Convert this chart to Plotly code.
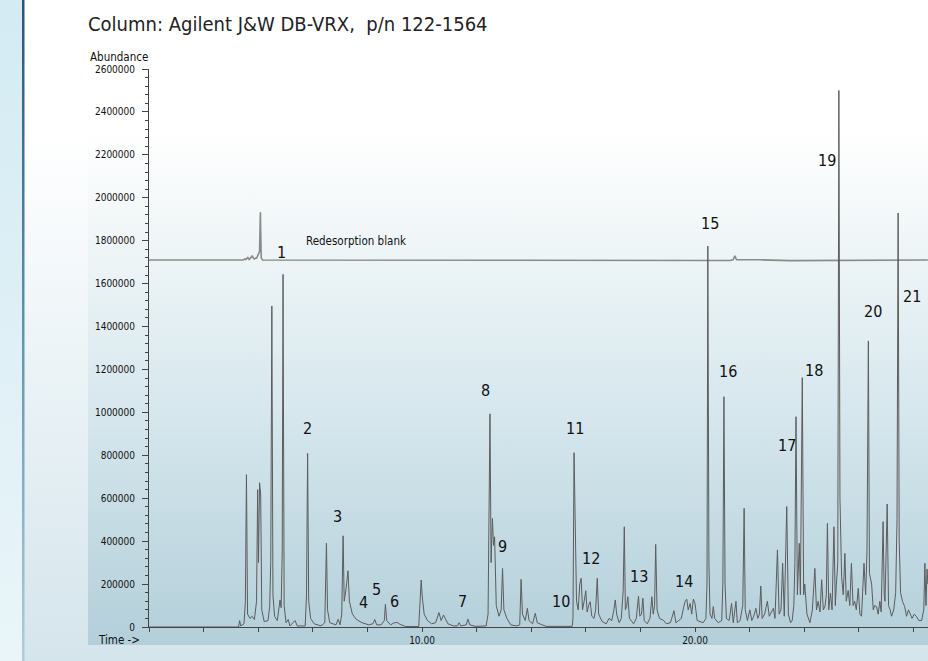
import base64
import plotly.graph_objects as go

# ---------------- data ----------------
# Main chromatogram trace: retention time (min) and abundance vertices
main_rt = [
    0.00, 3.28, 3.32, 3.36, 3.48, 3.53, 3.57, 3.61, 3.70, 3.78, 3.86, 3.94, 3.98, 4.01, 4.05, 4.09,
    4.13, 4.22, 4.36, 4.42, 4.46, 4.50, 4.54, 4.60, 4.70, 4.76, 4.80, 4.84, 4.88, 4.91, 4.95, 5.02,
    5.10, 5.16, 5.35, 5.43, 5.72, 5.77, 5.81, 5.85, 5.92, 6.05, 6.30, 6.44, 6.47, 6.50, 6.54, 6.62,
    6.85, 6.93, 7.00, 7.06, 7.11, 7.15, 7.22, 7.29, 7.34, 7.45, 7.60, 7.80, 8.05, 8.20, 8.27, 8.34,
    8.50, 8.62, 8.66, 8.71, 8.85, 8.95, 9.08, 9.20, 9.40, 9.88, 9.93, 9.97, 10.01, 10.08, 10.20, 10.35,
    10.50, 10.62, 10.70, 10.79, 10.85, 10.95, 11.15, 11.30, 11.36, 11.42, 11.62, 11.68, 11.75, 11.95, 12.35, 12.42,
    12.49, 12.53, 12.58, 12.62, 12.66, 12.72, 12.82, 12.90, 12.95, 13.00, 13.11, 13.25, 13.45, 13.58, 13.63, 13.68,
    13.78, 13.86, 13.92, 14.05, 14.15, 14.22, 14.40, 14.55, 15.50, 15.53, 15.57, 15.62, 15.66, 15.72, 15.78, 15.83,
    15.88, 15.94, 16.00, 16.05, 16.10, 16.16, 16.22, 16.30, 16.36, 16.42, 16.47, 16.60, 16.75, 16.85, 16.95, 17.03,
    17.08, 17.13, 17.22, 17.30, 17.37, 17.41, 17.45, 17.50, 17.54, 17.60, 17.75, 17.85, 17.93, 17.98, 18.04, 18.09,
    18.14, 18.25, 18.35, 18.42, 18.47, 18.52, 18.56, 18.61, 18.70, 18.85, 18.95, 19.10, 19.23, 19.30, 19.40, 19.50,
    19.58, 19.64, 19.70, 19.75, 19.82, 19.88, 19.94, 20.00, 20.08, 20.20, 20.30, 20.40, 20.44, 20.47, 20.51, 20.55,
    20.62, 20.67, 20.72, 20.85, 20.98, 21.02, 21.06, 21.10, 21.15, 21.25, 21.34, 21.40, 21.50, 21.55, 21.65, 21.75,
    21.80, 21.84, 21.92, 22.01, 22.08, 22.15, 22.23, 22.30, 22.36, 22.41, 22.46, 22.55, 22.65, 22.72, 22.80, 22.87,
    22.93, 23.02, 23.08, 23.15, 23.21, 23.27, 23.36, 23.42, 23.50, 23.56, 23.62, 23.66, 23.70, 23.75, 23.82, 23.86,
    23.93, 23.98, 24.02, 24.10, 24.21, 24.30, 24.39, 24.45, 24.51, 24.58, 24.64, 24.70, 24.76, 24.81, 24.85, 24.90,
    24.96, 25.02, 25.09, 25.14, 25.18, 25.23, 25.27, 25.31, 25.37, 25.43, 25.49, 25.54, 25.61, 25.67, 25.73, 25.79,
    25.85, 25.91, 25.98, 26.04, 26.10, 26.19, 26.25, 26.30, 26.35, 26.39, 26.47, 26.53, 26.58, 26.65, 26.71, 26.77,
    26.82, 26.89, 26.93, 26.96, 27.04, 27.09, 27.15, 27.20, 27.28, 27.35, 27.40, 27.44, 27.48, 27.53, 27.60, 27.68,
    27.75, 27.82, 27.87, 27.95, 28.03, 28.11, 28.20, 28.30, 28.38, 28.42, 28.46, 28.50, 28.53,
]
main_abund = [
    0, 0, 30000, 5000, 15000, 120000, 710000, 60000, 40000, 50000, 35000, 120000, 640000, 300000, 672000, 620000,
    80000, 25000, 30000, 95000, 300000, 1496000, 150000, 50000, 30000, 100000, 126000, 90000, 350000, 1643000, 100000, 20000,
    35000, 5000, 30000, 5000, 5000, 150000, 809000, 120000, 40000, 15000, 5000, 20000, 300000, 390000, 80000, 20000,
    10000, 36000, 10000, 60000, 425000, 120000, 180000, 262000, 120000, 60000, 35000, 20000, 10000, 15000, 35000, 10000,
    10000, 30000, 106000, 30000, 10000, 18000, 22000, 12000, 2000, 2000, 120000, 219000, 140000, 60000, 30000, 15000,
    20000, 67000, 30000, 56000, 40000, 15000, 5000, 5000, 20000, 5000, 10000, 37000, 10000, 3000, 5000, 60000,
    993000, 300000, 506000, 380000, 420000, 100000, 50000, 80000, 273000, 80000, 40000, 10000, 5000, 10000, 222000, 60000,
    30000, 87000, 30000, 15000, 64000, 20000, 10000, 3000, 3000, 40000, 812000, 300000, 120000, 80000, 200000, 227000,
    80000, 120000, 169000, 70000, 100000, 118000, 50000, 40000, 80000, 227000, 60000, 25000, 15000, 40000, 30000, 80000,
    126000, 60000, 20000, 40000, 170000, 467000, 80000, 100000, 141000, 40000, 15000, 40000, 144000, 50000, 60000, 134000,
    30000, 15000, 40000, 141000, 60000, 100000, 385000, 80000, 40000, 30000, 15000, 20000, 76000, 20000, 30000, 40000,
    90000, 120000, 129000, 80000, 110000, 60000, 130000, 110000, 30000, 25000, 20000, 40000, 200000, 1775000, 300000, 60000,
    40000, 95000, 40000, 20000, 30000, 200000, 1073000, 200000, 40000, 30000, 110000, 20000, 120000, 20000, 30000, 100000,
    553000, 80000, 30000, 80000, 30000, 50000, 87000, 40000, 60000, 191000, 40000, 60000, 120000, 50000, 70000, 87000,
    40000, 359000, 60000, 80000, 297000, 50000, 561000, 60000, 20000, 30000, 100000, 300000, 980000, 150000, 390000, 150000,
    1162000, 150000, 200000, 60000, 20000, 80000, 273000, 80000, 120000, 70000, 220000, 80000, 95000, 150000, 483000, 80000,
    158000, 80000, 467000, 100000, 200000, 300000, 2500000, 600000, 235000, 150000, 343000, 120000, 170000, 100000, 297000, 100000,
    120000, 80000, 180000, 60000, 50000, 297000, 150000, 350000, 1333000, 250000, 200000, 80000, 100000, 95000, 60000, 120000,
    70000, 491000, 150000, 120000, 573000, 100000, 80000, 50000, 80000, 160000, 500000, 1929000, 400000, 160000, 120000, 95000,
    50000, 80000, 65000, 40000, 60000, 50000, 30000, 30000, 80000, 297000, 100000, 270000, 200000,
]

# Redesorption blank trace (offset baseline)
blank_rt = [0.00, 3.45, 3.50, 3.55, 3.62, 3.67, 3.78, 3.85, 3.95, 4.05, 4.08, 4.11, 4.16,
            20.60, 21.30, 21.40, 21.46, 21.52, 22.40, 23.50, 24.50, 25.50, 28.53]
blank_abund = [1710000, 1710000, 1715000, 1712000, 1722000, 1713000, 1728000, 1715000, 1720000, 1750000,
               1932000, 1720000, 1710000, 1707000, 1708000, 1712000, 1729000, 1711000, 1711000, 1707000,
               1708000, 1710000, 1710000]

# Peak numbers and where their labels sit (time, abundance)
peak_labels = [str(i) for i in range(1, 22)]
label_rt = [4.85, 5.79, 6.90, 7.84, 8.35, 8.98, 11.50, 12.34, 12.95, 15.08, 15.59, 16.18, 17.95,
            19.60, 20.55, 21.20, 23.37, 24.36, 24.85, 26.51, 27.95]
label_abund = [1743000, 923000, 513000, 116000, 177000, 118000, 121000, 1100000, 377000, 121000, 923000,
               317000, 233000, 210000, 1878000, 1190000, 848000, 1197000, 2176000, 1468000, 1542000]

x_ticks = [10, 20]
x_tick_text = ["10.00", "20.00"]
y_ticks = list(range(0, 2600001, 200000))

# ---------------- background (gradients via an SVG image) ----------------
W, H = 928, 661
ML, MR, MT, MB = 149, 0, 69, 34
pw, ph = W - ML - MR, H - MT - MB

svg = f'''<svg xmlns="http://www.w3.org/2000/svg" width="{W}" height="{H}" viewBox="0 0 {W} {H}" preserveAspectRatio="none">
<defs>
<linearGradient id="outer" x1="0" y1="0" x2="0" y2="1">
<stop offset="0" stop-color="#ffffff"/><stop offset="0.2" stop-color="#ffffff"/>
<stop offset="0.5" stop-color="#eef5f8"/><stop offset="1" stop-color="#d5e5ec"/></linearGradient>
<linearGradient id="panel" x1="0" y1="0" x2="0" y2="1">
<stop offset="0" stop-color="#ffffff"/><stop offset="0.2" stop-color="#ffffff"/>
<stop offset="0.39" stop-color="#eef5f7"/><stop offset="0.62" stop-color="#d8e8ee"/>
<stop offset="1" stop-color="#b3cfda"/></linearGradient>
<linearGradient id="strip" x1="0" y1="0" x2="0" y2="1">
<stop offset="0" stop-color="#d4ebf3"/><stop offset="1" stop-color="#e9f5f9"/></linearGradient>
<linearGradient id="rule" x1="0" y1="0" x2="0" y2="1">
<stop offset="0" stop-color="#1b5a80"/><stop offset="0.5" stop-color="#5f93b0"/>
<stop offset="1" stop-color="#b0cdd9"/></linearGradient>
</defs>
<rect x="0" y="0" width="{W}" height="{H}" fill="url(#outer)"/>
<rect x="0" y="0" width="22" height="{H}" fill="url(#strip)"/>
<rect x="22" y="0" width="2.5" height="{H}" fill="url(#rule)"/>
<rect x="88" y="0" width="{W-88}" height="645" fill="url(#panel)"/>
</svg>'''
bg_src = "data:image/svg+xml;base64," + base64.b64encode(svg.encode()).decode()

FONT = "DejaVu Sans Condensed, Liberation Sans Narrow, sans-serif"

fig = go.Figure()
fig.add_trace(go.Scatter(x=blank_rt, y=blank_abund, mode="lines",
                         line=dict(color="#8a8a8a", width=1.6), hoverinfo="skip"))
fig.add_trace(go.Scatter(x=main_rt, y=main_abund, mode="lines",
                         line=dict(color="#5c5c5c", width=1), hoverinfo="skip"))

annotations = []
for txt, t, a in zip(peak_labels, label_rt, label_abund):
    annotations.append(dict(x=t, y=a, xref="x", yref="y", text=txt, showarrow=False,
                            xanchor="center", yanchor="middle",
                            font=dict(family=FONT, size=16, color="#111111")))

def px_x(x):
    return (x - ML) / pw

def px_y(y):
    return (H - MB - y) / ph

annotations += [
    dict(x=px_x(86), y=px_y(24), xref="paper", yref="paper", text="Column: Agilent J&amp;W DB-VRX,  p/n 122-1564",
         showarrow=False, xanchor="left", yanchor="middle", font=dict(family=FONT, size=20, color="#222222")),
    dict(x=px_x(88), y=px_y(57), xref="paper", yref="paper", text="Abundance",
         showarrow=False, xanchor="left", yanchor="middle", font=dict(family=FONT, size=11.5, color="#111111")),
    dict(x=px_x(96), y=px_y(640), xref="paper", yref="paper", text="Time -&gt;",
         showarrow=False, xanchor="left", yanchor="middle", font=dict(family=FONT, size=11.5, color="#111111")),
    dict(x=5.69, y=1797000, xref="x", yref="y", text="Redesorption blank",
         showarrow=False, xanchor="left", yanchor="middle", font=dict(family=FONT, size=11.5, color="#111111")),
]

fig.update_layout(
    width=W, height=H, autosize=False,
    margin=dict(l=ML, r=MR, t=MT, b=MB, pad=0),
    paper_bgcolor="white", plot_bgcolor="rgba(0,0,0,0)",
    showlegend=False,
    annotations=annotations,
    images=[dict(source=bg_src, xref="paper", yref="paper", x=-ML / pw, y=1 + MT / ph,
                 sizex=W / pw, sizey=H / ph, xanchor="left", yanchor="top",
                 sizing="stretch", layer="below")],
    xaxis=dict(range=[0, (W - ML) / 27.30], showgrid=False, zeroline=False,
               showline=True, linecolor="#444444", linewidth=1,
               tickmode="array", tickvals=x_ticks, ticktext=x_tick_text,
               ticks="outside", ticklen=4, tickcolor="#444444",
               minor=dict(dtick=2, tick0=0, ticks="outside", ticklen=4, tickcolor="#444444"),
               tickfont=dict(family=FONT, size=10, color="#111111")),
    yaxis=dict(range=[0, 2600000], showgrid=False, zeroline=False,
               showline=True, linecolor="#444444", linewidth=1,
               tickmode="array", tickvals=y_ticks, ticktext=[str(v) for v in y_ticks],
               ticks="outside", ticklen=6, tickcolor="#444444", ticklabelstandoff=5,
               minor=dict(dtick=40000, tick0=0, ticks="outside", ticklen=3, tickcolor="#444444"),
               tickfont=dict(family=FONT, size=10, color="#111111")),
)

fig.write_html("out.html")
